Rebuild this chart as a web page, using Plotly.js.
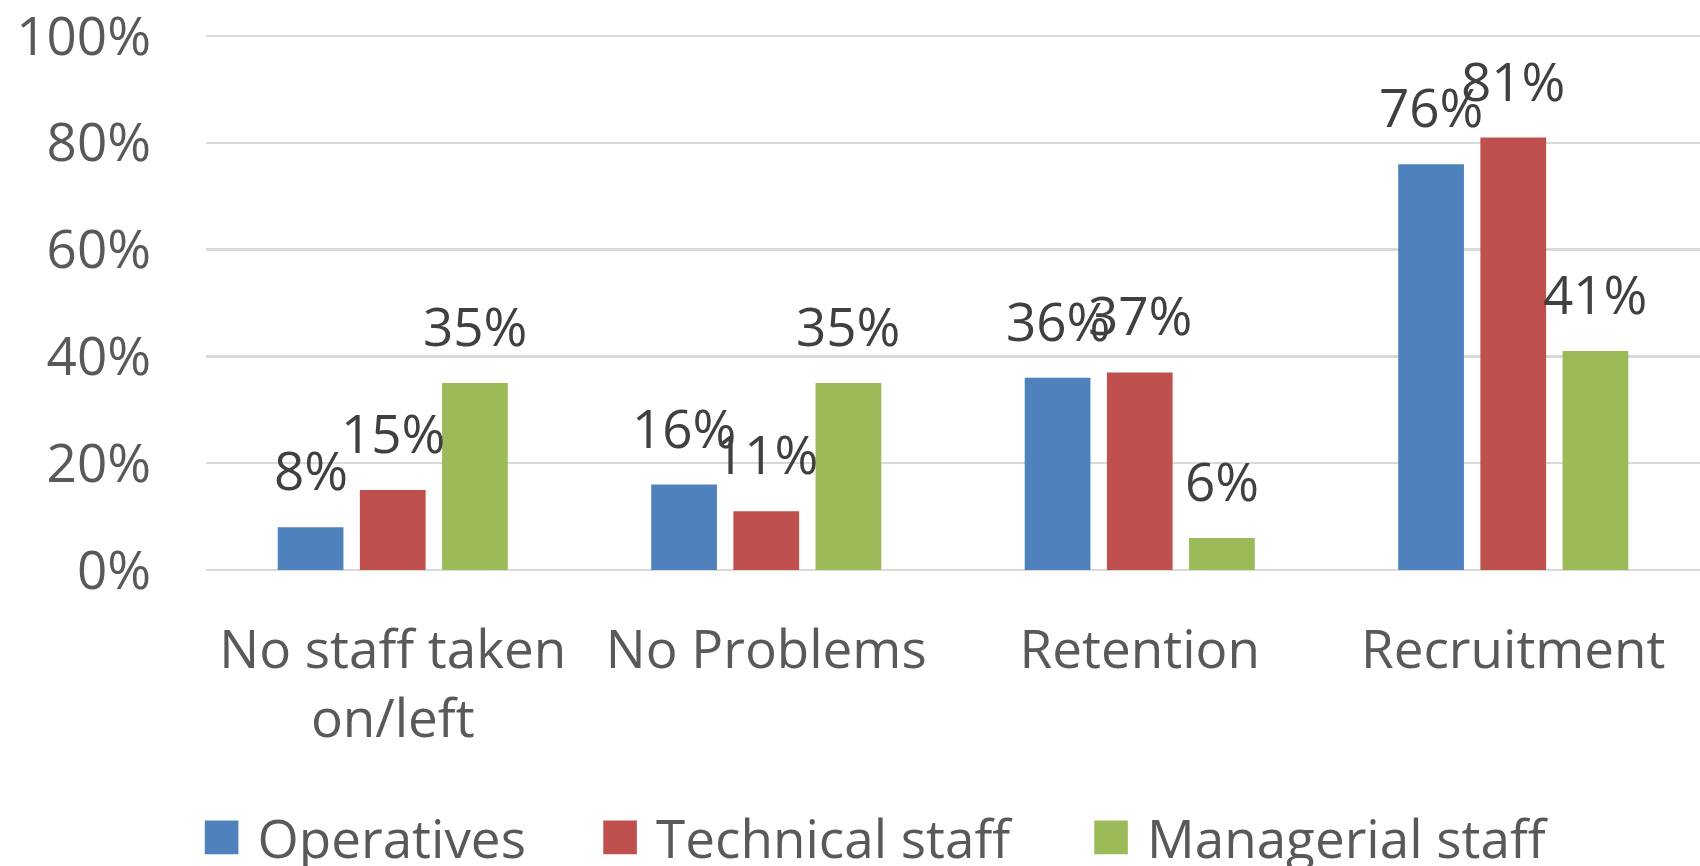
<!DOCTYPE html>
<html>
<head>
<meta charset="utf-8">
<script src="https://cdn.plot.ly/plotly-3.0.1.min.js"></script>
<style>
html,body{margin:0;padding:0;background:#fff;}
#chart{width:1700px;height:866px;}
</style>
</head>
<body>
<div id="chart"></div>
<script>
// Data
var categories = ["No staff taken on/left", "No Problems", "Retention", "Recruitment"];
var tickLabels = ["No staff taken<br>on/left", "No Problems", "Retention", "Recruitment"];
var seriesNames = ["Operatives", "Technical staff", "Managerial staff"];
var operatives = [0.08, 0.16, 0.36, 0.76];
var technical = [0.15, 0.11, 0.37, 0.81];
var managerial = [0.35, 0.35, 0.06, 0.41];
var yTickVals = [0, 0.2, 0.4, 0.6, 0.8, 1.0];

var seriesValues = [operatives, technical, managerial];
var colors = ["#4f81bd", "#c0504d", "#9bbb59"];
var legendIds = ["legend", "legend2", "legend3"];
var legendX = [0.128, 0.3624, 0.6512];
var FONT = "Open Sans, sans-serif";
var FS = 53;

var traces = seriesValues.map(function (vals, i) {
  return {
    type: "bar",
    name: seriesNames[i],
    x: categories,
    y: vals,
    legend: legendIds[i],
    marker: { color: colors[i] },
    hoverinfo: "none"
  };
});

// data labels as annotations, offset to each bar of the group
var bargap = 0.34, bargroupgap = 0.2;
var plotLeft = 206, plotRight = 1700;
var catWidth = (plotRight - plotLeft) / categories.length;
var slot = catWidth * (1 - bargap) / seriesValues.length;
var annotations = [];
seriesValues.forEach(function (vals, i) {
  vals.forEach(function (v, j) {
    annotations.push({
      x: categories[j], y: v, xref: "x", yref: "y",
      text: Math.round(v * 100) + "%",
      showarrow: false,
      xanchor: "center", yanchor: "bottom",
      xshift: (i - (seriesValues.length - 1) / 2) * slot,
      yshift: 19,
      font: { family: FONT, size: FS, color: "#404040" }
    });
  });
});

var layout = {
  width: 1700, height: 866,
  paper_bgcolor: "#ffffff", plot_bgcolor: "#ffffff",
  margin: { l: plotLeft, r: 1700 - plotRight, t: 35, b: 296, pad: 0 },
  barmode: "group",
  bargap: bargap,
  bargroupgap: bargroupgap,
  font: { family: FONT, size: FS, color: "#595959" },
  showlegend: true,
  xaxis: {
    type: "category",
    tickvals: categories,
    ticktext: tickLabels,
    showgrid: false, zeroline: false, showline: false,
    ticks: "",
    ticklabelstandoff: 44,
    tickfont: { family: FONT, size: FS, color: "#595959" },
    fixedrange: true
  },
  yaxis: {
    range: [0, 1.002],
    tickvals: yTickVals,
    tickformat: ".0%",
    showgrid: true, gridcolor: "#d9d9d9", gridwidth: 2.5,
    zeroline: true, zerolinecolor: "#d9d9d9", zerolinewidth: 2.5,
    showline: false, ticks: "",
    ticklabelstandoff: 54,
    ticklabeloverflow: "allow",
    tickfont: { family: FONT, size: FS, color: "#595959" },
    fixedrange: true
  },
  annotations: annotations
};
legendIds.forEach(function (id, i) {
  layout[id] = {
    orientation: "h",
    xref: "container", yref: "container",
    x: legendX[i], xanchor: "left",
    y: 0.033, yanchor: "middle",
    font: { family: FONT, size: FS, color: "#595959" },
    bgcolor: "rgba(0,0,0,0)",
    itemclick: false, itemdoubleclick: false
  };
});

Plotly.newPlot("chart", traces, layout, { displayModeBar: false, staticPlot: true }).then(function () {
  document.querySelectorAll("#chart .legendpoints path").forEach(function (p) {
    p.setAttribute("transform", "translate(4,0) scale(2.8)");
  });
  document.querySelectorAll("#chart g.legend, #chart g.legend2, #chart g.legend3").forEach(function (g) {
    g.removeAttribute("clip-path");
    g.querySelectorAll("[clip-path]").forEach(function (c) { c.removeAttribute("clip-path"); });
  });
});
</script>
</body>
</html>
